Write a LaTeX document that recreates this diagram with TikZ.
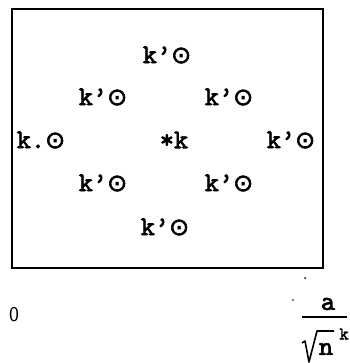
\documentclass[tikz,border=0pt]{standalone}
\usepackage{fontspec}
\setmonofont[AutoFakeBold=2.5]{lmmono10-regular.otf}
\newfontfamily\djv[AutoFakeBold=2.5]{DejaVu Sans}
\begin{document}
\begin{tikzpicture}[x=1pt,y=-1pt,
  lab/.style={inner sep=0pt, font=\ttfamily\bfseries\fontsize{27}{30}\selectfont}]
\useasboundingbox (0,0) rectangle (349,363);
\newcommand{\odt}{{\djv\fontsize{24}{26}\selectfont ⊙}}
\newcommand{\kod}{k’\odt}
\draw[line width=2pt] (12,9) rectangle (323,268);
\node[lab] (r1) at (167,55) {\kod};
\node[lab] (r2a) at (103,97) {\kod};
\node[lab] (r2b) at (229,97) {\kod};
\node[lab] (r3a) at (41,140) {k.\odt};
\node[lab] (r3b) at (174,140) {*k};
\node[lab] (r3c) at (291,140) {\kod};
\node[lab] (r4a) at (103,183) {\kod};
\node[lab] (r4b) at (229,183) {\kod};
\node[lab] (r5) at (165,227) {\kod};
\fill (305,278) circle (1pt);
\fill (293,300) circle (0.8pt);
\node[lab, font=\sffamily\fontsize{21}{24}\selectfont] (zero) at (14,315) {0};
\node[lab] (a) at (328,304) {a};
\coordinate (b1) at (302,317);
\coordinate (b2) at (347,317);
\draw[line width=1.6pt] (b1) -- (b2);
\coordinate (s1) at (302,343);
\coordinate (s2) at (305,341);
\coordinate (s3) at (309,362);
\coordinate (s4) at (317,331);
\coordinate (s5) at (334,331);
\draw[line width=1.6pt, line join=round] (s1) -- (s2) -- (s3) -- (s4) -- (s5);
\node[lab] (n) at (326,349) {n};
\node[lab, font=\ttfamily\bfseries\fontsize{18}{20}\selectfont] (k) at (344,334) {k};
\end{tikzpicture}
\end{document}
